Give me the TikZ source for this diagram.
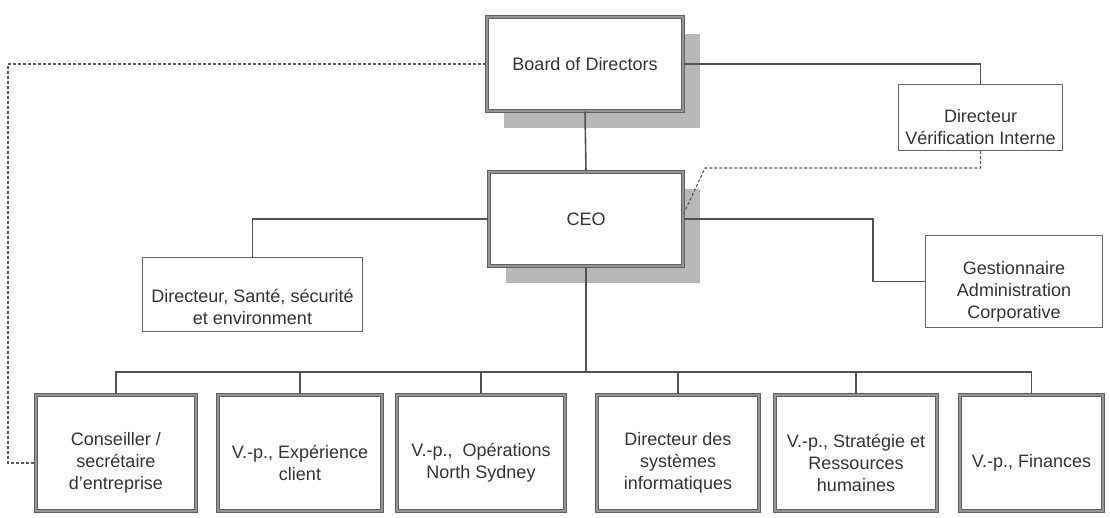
\documentclass[tikz,border=0pt]{standalone}
\usepackage{fontspec}
\setmainfont{Liberation Sans}
\usetikzlibrary{shadows}

\begin{document}
\begin{tikzpicture}[x=1pt, y=-1pt,
  txt/.style={align=center, text=black!80, font=\fontsize{18}{22}\selectfont},
  thinbox/.style={draw=black!60, line width=1.4pt, fill=white, inner sep=0pt},
  thickbox/.style={draw=black!62, double=black!42, double distance=2pt, line width=1.1pt, fill=white, inner sep=0pt},
  topbox/.style={thickbox, txt, drop shadow={shadow xshift=17pt, shadow yshift=-17pt, fill=black!28, opacity=1}},
  link/.style={draw=black!68, line width=1.6pt},
  dotlink/.style={draw=black!65, line width=1.1pt, densely dashed}]

  \path[use as bounding box, fill=white] (0,0) rectangle (1110,518);

  % top of the chart
  \node[topbox, minimum width=196pt, minimum height=94pt] (board) at (585,64) {Board of Directors};
  \node[topbox, minimum width=194pt, minimum height=94pt] (ceo) at (586,219) {CEO};

  \node[thinbox, minimum width=164pt, minimum height=66pt] (dvi) at (980.5,117.5) {};
  \node[txt] (dvi-t) at ([yshift=-10pt]dvi.center) {Directeur\\Vérification Interne};

  \node[thinbox, minimum width=220pt, minimum height=74pt] (sante) at (252.5,294.5) {};
  \node[txt] (sante-t) at ([yshift=-12pt]sante.center) {Directeur, Santé, sécurité\\et environment};

  \node[thinbox, minimum width=177pt, minimum height=92pt] (gest) at (1014,281.5) {};
  \node[txt] (gest-t) at ([yshift=-10pt]gest.center) {Gestionnaire\\Administration\\Corporative};

  % bottom row
  \node[thickbox, minimum width=160pt, minimum height=116pt] (cons) at (116,453) {};
  \node[txt] (cons-t) at ([yshift=-10pt]cons.center) {Conseiller /\\secrétaire\\d'entreprise};
  \node[thickbox, minimum width=164pt, minimum height=116pt] (vpexp) at (300,453) {};
  \node[txt] (vpexp-t) at ([yshift=-10pt]vpexp.center) {V.-p., Expérience\\client};
  \node[thickbox, minimum width=168pt, minimum height=116pt] (vpops) at (481,453) {};
  \node[txt] (vpops-t) at ([yshift=-10pt]vpops.center) {V.-p.,\ \ Opérations\\North Sydney};
  \node[thickbox, minimum width=162pt, minimum height=116pt] (dirsys) at (678,453) {};
  \node[txt] (dirsys-t) at ([yshift=-10pt]dirsys.center) {Directeur des\\systèmes\\informatiques};
  \node[thickbox, minimum width=162pt, minimum height=116pt] (vpstrat) at (856,453) {};
  \node[txt] (vpstrat-t) at ([yshift=-10pt]vpstrat.center) {V.-p., Stratégie et\\Ressources\\humaines};
  \node[thickbox, minimum width=143pt, minimum height=116pt] (vpfin) at (1031.5,453) {};
  \node[txt] (vpfin-t) at ([yshift=-10pt]vpfin.center) {V.-p., Finances};

  \coordinate (lbend) at (8,64);
  \coordinate (vbend) at (705,168);
  \coordinate (gbend) at (873,219);
  \coordinate (bus) at (586,372);

  \draw[link] (board.south) -- (ceo.north);
  \draw[link] (board.east) -| (dvi.north);
  \draw[link] (ceo.west) -| (sante.north);
  \draw[link] (ceo.east) -- (gbend) |- (gest.west);
  \draw[link] (ceo.south) -- (bus);
  \foreach \b in {cons,vpexp,vpops,dirsys,vpstrat,vpfin}
    \draw[link] (bus) -| (\b.north);

  \draw[dotlink] (board.west) -- (lbend) |- ([yshift=-10pt]cons.west);
  \draw[dotlink] (dvi.south) |- (vbend) -- ([yshift=5pt]ceo.east);
\end{tikzpicture}
\end{document}
